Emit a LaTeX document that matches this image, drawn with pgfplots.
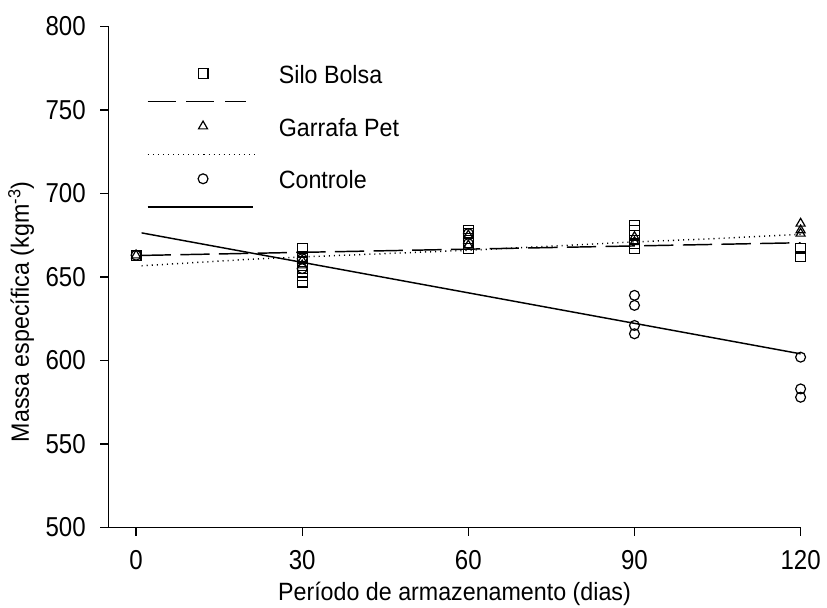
\documentclass[border=0pt]{standalone}
\usepackage{fontspec}
\setmainfont{Liberation Sans}[FakeStretch=0.93]
\newfontfamily\tickfont{Liberation Sans}[FakeStretch=0.88]
\usepackage{pgfplots}
\pgfplotsset{compat=1.18}
\begin{document}
\begin{tikzpicture}
\path[use as bounding box] (-81.3pt,-60.3pt) rectangle (539pt,395.7pt);
\begin{axis}[
  at={(0pt,0pt)}, anchor=south west,
  scale only axis, width=519.2pt, height=375.9pt,
  xmin=-5, xmax=120, ymin=500, ymax=800,
  axis lines=left, axis line style={-, line width=0.9pt},
  xtick={0,30,60,90,120}, ytick={500,550,...,800},
  tick align=outside, major tick length=6pt,
  tick style={line width=0.9pt, black},
  /pgf/number format/assume math mode=true,
  tick label style={font=\tickfont\fontsize{20.5pt}{24pt}\selectfont},
  yticklabel style={anchor=east, inner sep=0pt, xshift=-10.8pt},
  xticklabel style={anchor=base, inner sep=0pt, yshift=-25.5pt},
  every axis y label/.style={at={([xshift=-65.5pt]rel axis cs:0,0.4306)}, rotate=90, anchor=center,
     font=\fontsize{18.75pt}{22pt}\selectfont},
  every axis x label/.style={at={([yshift=-55pt]rel axis cs:0.5,0)}, anchor=base,
     font=\fontsize{18.75pt}{22pt}\selectfont},
  xlabel={Período de armazenamento (dias)},
  ylabel={Massa específica (kgm\textsuperscript{-3})},
  legend style={at={(0,1)}, anchor=north west, xshift=28.95pt, yshift=-23pt,
    draw=none, fill=none, inner sep=0pt, outer sep=0pt, row sep=0pt, column sep=16.9pt,
    nodes={anchor=base west, inner sep=0pt, text height=20pt, text depth=19.4pt,
      font=\fontsize{18.75pt}{22pt}\selectfont}},
]
\addlegendimage{legend image code/.code={
  \draw[line width=1.1pt, dash pattern=on 21pt off 8pt] (0pt,-13.5pt) -- (74pt,-13.5pt);
  \draw[only marks, mark=square, mark size=3.7pt, line width=0.9pt] plot coordinates {(41.5pt,7.5pt)};
}}
\addlegendentry{Silo Bolsa}
\addlegendimage{legend image code/.code={
  \draw[line width=1.1pt, dash pattern=on 0.8pt off 3pt] (0pt,-13.5pt) -- (80.9pt,-13.5pt);
  \draw[only marks, mark=triangle, mark size=3.9pt, line width=0.9pt] plot coordinates {(41.5pt,7.5pt)};
}}
\addlegendentry{Garrafa Pet}
\addlegendimage{legend image code/.code={
  \draw[line width=1.1pt] (0pt,-13.5pt) -- (79pt,-13.5pt);
  \draw[only marks, mark=o, mark size=3.7pt, line width=0.9pt] plot coordinates {(41.5pt,7.5pt)};
}}
\addlegendentry{Controle}

% Silo Bolsa
\addplot[forget plot, only marks, mark=square, mark size=3.7pt, mark options={line width=0.9pt}] coordinates {
 (0,663) (30,667) (30,662) (30,659) (30,655) (30,651) (30,647)
 (60,678) (60,676) (60,673) (60,667)
 (90,681) (90,678) (90,675) (90,670) (90,667)
 (120,667) (120,662)};
% Garrafa Pet
\addplot[forget plot, only marks, mark=triangle, mark size=3.9pt, mark options={line width=0.9pt}] coordinates {
 (0,663) (30,660) (30,657) (60,675) (60,669) (90,674) (90,671) (120,682) (120,678) (120,676)};
% Controle
\addplot[forget plot, only marks, mark=o, mark size=3.7pt, mark options={line width=0.9pt}] coordinates {
 (0,663) (30,661) (30,655) (60,676) (60,670)
 (90,639) (90,633) (90,621) (90,616)
 (120,602) (120,583) (120,578)};
% fitted lines
\addplot[forget plot, line width=1.1pt, dash pattern=on 22pt off 7pt] coordinates {(1,662.9) (120,670.5)};
\addplot[forget plot, line width=1.1pt, dash pattern=on 0.8pt off 3pt] coordinates {
 (1,656.7) (10,658.5) (20,660.5) (30,662) (45,664) (60,666) (75,668.5) (90,671) (105,673) (120,675.5)};
\addplot[forget plot, line width=1.1pt] coordinates {(1,676.4) (120,604)};
\end{axis}
\end{tikzpicture}
\end{document}
